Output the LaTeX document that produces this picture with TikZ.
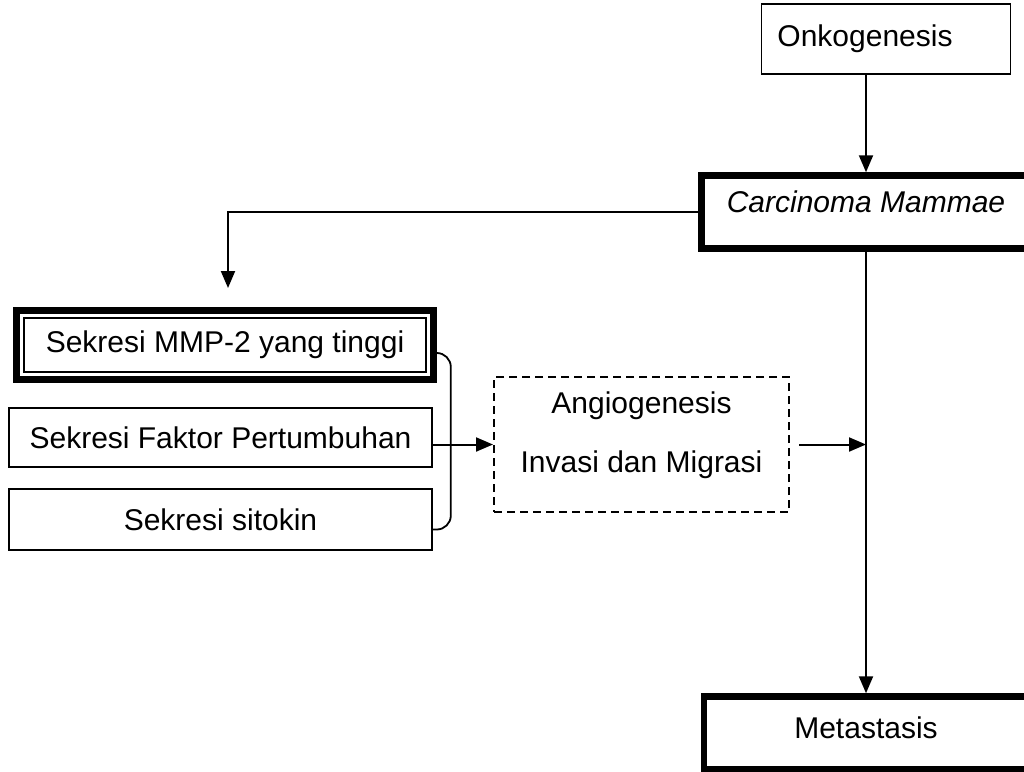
\documentclass[tikz,border=0pt]{standalone}
\usepackage{fontspec}
\setmainfont{Liberation Sans}
\usepackage{tikz}
\usetikzlibrary{calc,arrows.meta}

\begin{document}
\begin{tikzpicture}[x=1pt,y=-1pt,
    font=\fontsize{30}{59}\selectfont,
    >={Triangle[length=17pt,width=14pt]},
    box/.style={draw,line width=1.6pt,inner sep=0pt},
    thickbox/.style={draw,line width=6.5pt,inner sep=0pt},
    link/.style={line width=2pt}]
  \useasboundingbox (0,0) rectangle (1024,771);

  \node(onko)[box,minimum width=249pt,minimum height=70pt] at (886,39) {Onkogenesis\hspace{42pt}\null};
  \node(carc)[thickbox,text depth=21pt,minimum width=329pt,minimum height=73pt] at (866,212) {\itshape Carcinoma Mammae};
  \node(mmp)[draw,line width=7pt,inner sep=0pt,minimum width=417pt,minimum height=69pt] at (225,345) {Sekresi MMP-2 yang tinggi};
  \node(faktor)[box,minimum width=423pt,minimum height=59pt] at (220.5,437.5) {Sekresi Faktor Pertumbuhan};
  \node(sitokin)[box,minimum width=423pt,minimum height=61pt] at (220.5,519.5) {Sekresi sitokin};
  \node(angio)[draw,line width=2pt,dash pattern=on 8pt off 5pt,inner sep=0pt,align=center,text depth=25pt,
    minimum width=295pt,minimum height=135pt] at (641.5,444.5) {Angiogenesis\\Invasi dan Migrasi};
  \node(meta)[thickbox,text depth=11pt,minimum width=324pt,minimum height=73pt] at (866,733) {Metastasis};

  % inner line of the double frame
  \draw[line width=1.5pt] ([xshift=11pt,yshift=-11pt]mmp.north west) rectangle ([xshift=-11pt,yshift=11pt]mmp.south east);

  \coordinate(join) at (carc.south |- angio.east);

  \draw [link,->] (carc.north |- onko.south) -- (carc.north);
  \draw [link,->] (carc.west) -| ([xshift=3pt,yshift=19pt]mmp.north);
  \draw [line width=1.8pt,rounded corners=14pt] ([yshift=-8pt]mmp.east) -| ([xshift=18pt]faktor.east) |- ([yshift=-10pt]sitokin.east);
  \draw [link,->] (faktor.east |- angio.west) -- (angio.west);
  \draw [link,->] ([xshift=9pt]angio.east) -- (join);
  \draw [link,->] (carc.south) -- (meta.north);

\end{tikzpicture}
\end{document}
